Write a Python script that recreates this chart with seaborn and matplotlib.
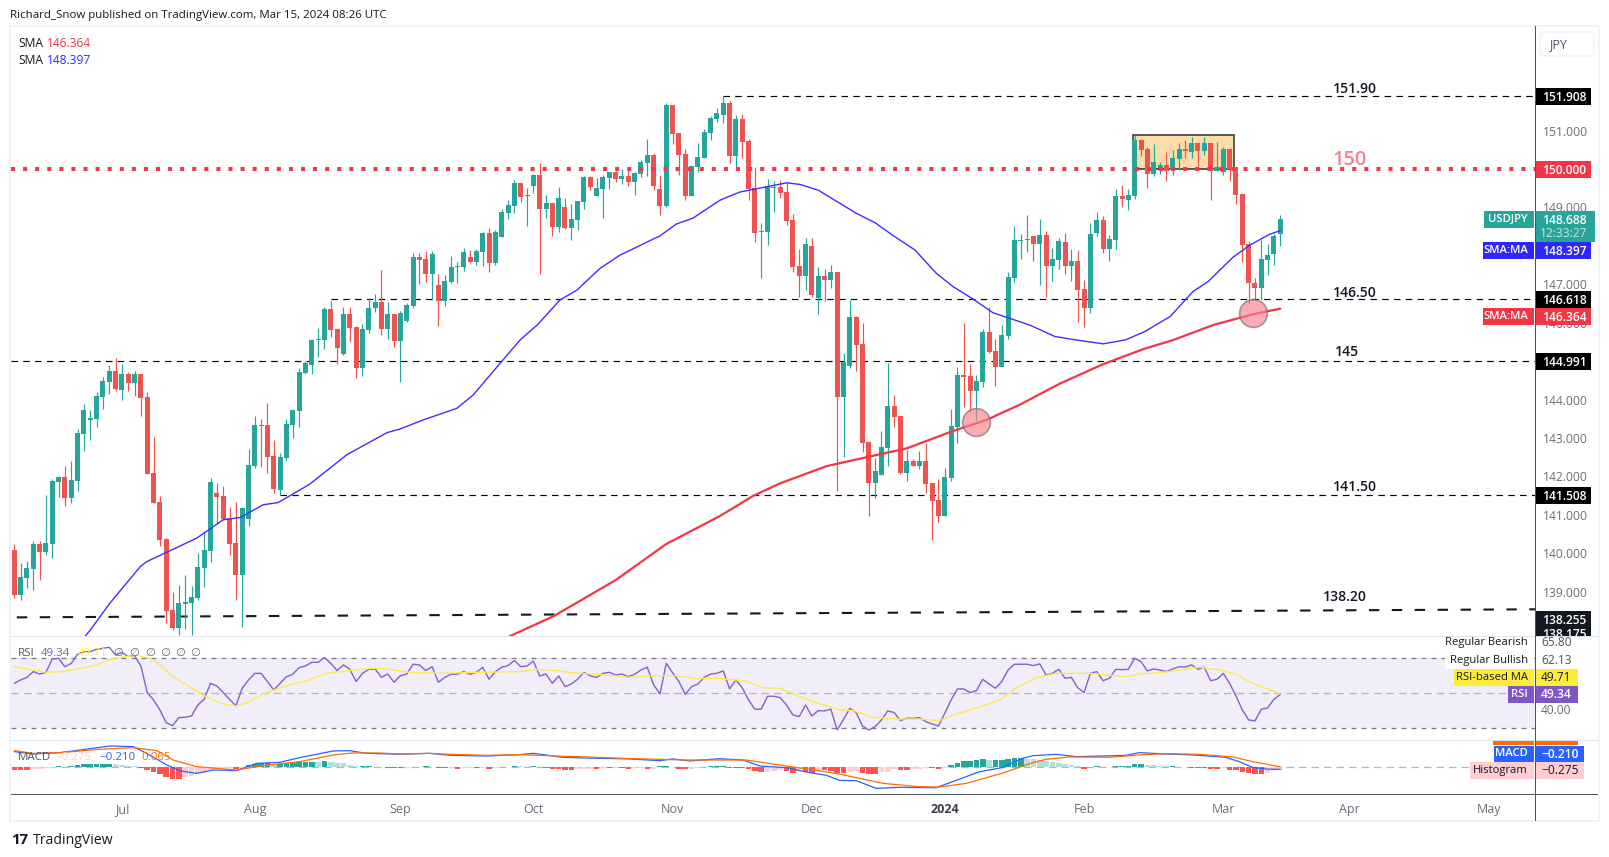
import numpy as np
import matplotlib
matplotlib.use("Agg")
import matplotlib.pyplot as plt
import seaborn as sns
from matplotlib.patches import Rectangle, FancyBboxPatch
from matplotlib.transforms import Bbox, TransformedBbox

# ---------- data ----------
opens = [140.08,138.91,139.36,139.59,140.24,140.03,140.24,141.85,141.98,141.44,141.88,143.10,143.47,143.49,144.07,144.46,144.74,144.25,144.67,144.43,
144.67,144.07,142.09,141.33,140.37,138.52,138.05,138.68,138.70,138.83,139.62,140.06,141.57,141.49,140.92,140.27,139.43,140.89,142.27,143.34,
143.34,142.53,141.65,142.48,143.34,143.70,144.69,144.90,145.55,145.55,146.36,145.84,145.19,146.23,145.89,144.82,145.81,146.39,146.54,145.84,
146.23,145.52,146.04,146.44,147.71,147.66,147.27,146.98,146.57,147.06,147.45,147.45,147.71,147.58,147.84,148.34,147.56,148.23,148.86,149.04,
149.64,149.30,149.56,149.85,148.96,149.12,148.49,149.01,148.47,148.67,149.14,149.80,149.30,149.48,149.77,149.92,149.74,149.82,149.67,149.87,
150.16,150.37,149.48,149.04,151.67,150.94,150.39,149.30,150.05,150.29,150.94,151.30,151.40,151.72,150.34,151.30,150.73,149.51,148.36,148.36,
149.51,149.53,149.40,148.67,147.48,147.22,148.00,146.64,147.22,147.11,147.32,144.07,144.87,146.15,145.45,142.90,141.83,142.03,142.74,143.83,
143.57,142.09,142.40,142.27,142.40,141.83,141.38,140.97,141.96,143.28,144.64,144.61,144.22,144.46,145.76,145.26,144.84,145.65,147.16,148.13,
148.15,148.26,148.05,148.28,147.47,147.63,148.10,147.47,147.60,146.87,146.38,148.33,148.67,147.91,148.15,149.30,149.19,149.30,150.75,150.52,
149.87,150.03,150.10,149.97,150.26,150.52,150.44,150.68,150.47,150.68,149.95,149.92,150.52,150.05,149.35,148.05,147.04,146.90,147.63,147.79,148.31]
highs = [140.24,139.74,139.80,140.32,140.32,141.52,141.92,142.01,142.27,142.40,143.23,143.88,143.73,144.20,144.59,144.90,145.08,144.93,144.72,144.74,
144.67,144.20,143.03,141.49,140.40,138.99,139.17,139.43,139.15,140.01,140.58,141.96,141.83,141.75,141.20,141.33,141.20,142.71,143.57,143.49,
143.91,142.95,142.61,143.49,143.75,144.82,145.00,145.58,145.86,146.41,146.57,145.86,146.41,146.41,145.91,145.97,146.65,146.75,147.37,146.54,
146.23,146.30,146.51,147.81,147.81,147.87,147.87,147.27,147.24,147.74,147.58,147.95,147.90,147.92,148.36,148.47,148.41,148.96,149.20,149.72,
149.64,149.51,149.87,150.16,149.33,149.12,149.53,149.25,149.09,149.17,149.82,149.82,149.77,149.85,149.92,149.95,150.00,149.97,149.92,150.23,
150.78,150.42,149.85,151.72,151.67,150.94,150.52,150.08,150.68,151.04,151.38,151.59,151.90,151.77,151.40,151.43,150.78,150.05,148.60,149.74,
149.69,149.72,149.67,148.83,147.92,148.20,148.20,147.45,147.40,147.50,147.32,145.21,146.59,146.17,145.99,142.92,142.48,143.18,144.95,144.12,
143.57,142.68,142.45,142.66,142.87,141.83,141.93,142.22,143.75,144.84,145.99,144.92,144.64,145.84,146.41,145.57,145.94,147.32,148.51,148.31,
148.80,148.26,148.70,148.39,147.94,148.20,148.33,147.91,147.89,147.11,148.59,148.88,148.77,148.28,149.48,149.58,149.48,150.88,150.78,150.57,
150.65,150.18,150.44,150.49,150.68,150.75,150.83,150.70,150.83,150.68,150.70,150.57,150.55,150.05,149.37,148.12,147.16,148.15,148.05,148.30,148.80]
lows = [138.84,138.78,139.09,139.04,139.30,139.95,139.88,141.46,141.23,141.31,141.62,142.66,142.95,143.29,143.75,144.14,144.22,143.99,144.22,144.09,
143.57,142.06,141.31,140.19,138.18,138.00,137.87,138.03,137.87,138.78,139.12,139.77,140.76,140.86,139.95,138.78,138.08,140.71,142.22,142.24,
142.09,141.57,141.52,142.43,143.00,143.29,144.67,144.67,145.11,145.32,145.63,144.93,145.16,145.50,144.56,144.62,145.74,146.28,145.68,145.58,
145.37,144.46,146.02,146.38,147.01,147.06,146.59,145.91,146.44,147.03,147.03,147.35,147.56,147.50,147.48,147.32,147.50,148.23,148.70,148.86,
149.14,148.52,149.38,147.27,148.73,148.26,148.36,148.44,148.16,148.41,148.96,149.46,149.30,148.73,149.48,149.67,149.61,149.56,149.33,149.80,
149.82,149.46,148.80,149.01,150.65,149.85,149.20,149.30,149.92,150.29,150.76,151.22,151.20,150.16,150.05,150.29,149.20,148.10,147.16,148.02,
148.88,149.25,148.55,147.32,146.67,146.85,146.67,146.22,146.56,146.90,141.62,142.50,144.82,144.74,142.63,140.97,141.44,142.03,142.27,143.28,
142.06,141.88,142.27,142.19,141.57,140.34,140.81,140.97,141.88,142.87,143.80,143.67,143.44,144.33,145.21,144.35,144.84,145.57,147.06,147.66,
147.84,147.60,146.98,146.67,147.08,147.40,147.27,147.08,146.01,145.88,146.25,148.26,147.81,147.60,147.91,149.01,148.93,149.22,150.34,149.50,
149.82,149.87,149.69,149.84,149.97,150.29,150.29,150.08,150.36,149.19,149.95,149.84,149.69,149.09,147.58,146.49,146.59,146.59,147.24,147.50,148.00]
closes = [138.91,139.38,139.62,140.24,140.03,140.27,141.88,141.98,141.44,141.91,143.13,143.73,143.52,144.09,144.48,144.74,144.27,144.67,144.43,144.67,
144.04,142.06,141.31,140.34,138.50,138.05,138.70,138.73,138.86,139.64,140.08,141.85,141.46,140.89,140.24,139.43,141.18,142.30,143.34,143.31,
142.50,141.67,142.50,143.36,143.73,144.72,144.95,145.55,145.58,146.36,145.81,145.34,146.23,145.86,144.82,145.84,146.39,146.54,145.84,146.23,
145.52,146.25,146.46,147.71,147.63,147.27,147.79,146.57,147.09,147.45,147.48,147.84,147.58,147.87,148.34,147.56,148.36,148.88,149.07,149.64,
149.27,149.33,149.85,148.96,149.12,148.49,149.25,148.47,148.70,149.17,149.80,149.53,149.51,149.80,149.92,149.74,149.82,149.67,149.89,150.18,
150.37,149.56,149.04,151.67,150.91,150.37,149.30,150.08,150.32,150.97,151.33,151.46,151.72,150.34,151.30,150.71,149.48,148.33,148.39,149.56,
149.53,149.38,148.65,147.45,147.22,148.05,146.72,147.22,147.11,147.32,144.07,144.97,146.15,145.42,142.87,141.83,142.14,142.76,143.83,143.54,
142.09,142.40,142.27,142.40,141.80,141.36,140.97,141.98,143.31,144.64,144.59,144.22,144.48,145.76,145.24,144.84,145.68,147.19,148.15,148.15,
148.18,148.05,148.28,147.47,147.66,148.12,147.47,147.60,146.85,146.38,148.31,148.67,147.91,148.18,149.30,149.22,149.32,150.75,150.49,149.87,
150.18,150.10,149.95,150.29,150.52,150.47,150.68,150.47,150.68,149.95,150.05,150.52,150.00,149.32,148.02,147.04,146.90,147.66,147.76,148.26,148.69]

sma50_x = [10,12,15.1,19.9,20.9,28.8,33,35.7,39.3,41.7,46.7,52.5,58.9,60.9,64.6,69.9,72.5,77.2,79.9,82.6,86.2,88.9,92.5,95.7,102,104.6,107.2,111.5,114.6,118.9,122,124.1,127,130,133,136,139,142.3,145.7,148.3,151.5,154.6,160.4,164.4,167.8,172,175.5,178.6,182.6,186.2,188.6,192.5,195.2,198.3,200]
sma50_y = [137.6,138.0,138.70,139.65,139.78,140.39,140.87,140.93,141.26,141.32,141.80,142.56,143.14,143.23,143.47,143.77,144.12,145.03,145.55,145.94,146.59,146.85,147.41,147.76,148.26,148.57,148.72,149.19,149.40,149.54,149.64,149.60,149.45,149.15,148.85,148.6,148.25,147.89,147.28,146.94,146.61,146.26,145.94,145.64,145.55,145.45,145.55,145.77,146.16,146.81,147.07,147.70,148.02,148.30,148.397]
sma200_x = [77,78.3,85.3,95,103,111.5,116.7,121,128.4,134.7,141,148.3,153.6,158.9,165,172,178.5,183.1,189.4,195.7,198.3,200]
sma200_y = [137.6,137.84,138.37,139.30,140.24,140.97,141.49,141.82,142.27,142.50,142.73,143.18,143.47,143.87,144.4,144.92,145.32,145.55,145.94,146.22,146.31,146.364]

rsi = [55.7,57.6,59.1,62.4,61.0,62.0,69.6,70.0,65.2,67.1,72.3,73.8,73.8,75.1,75.7,76.3,71.9,73.4,71.0,71.5,
65.6,50.4,46.2,40.5,33.2,31.5,36.1,36.3,37.0,43.3,46.6,55.7,54.2,50.4,46.6,42.8,52.9,57.6,61.4,61.4,
56.7,51.9,55.7,59.5,60.9,64.7,65.6,67.7,67.7,70.4,67.1,63.0,66.2,63.7,56.7,61.4,63.7,63.9,59.1,61.0,
56.3,60.1,61.0,66.6,66.2,63.0,65.2,56.3,59.1,60.9,60.9,62.4,60.9,62.0,64.9,58.0,62.4,64.9,65.8,68.7,
65.2,65.6,68.5,59.9,61.0,55.7,59.9,53.8,55.3,58.0,62.0,59.9,59.1,61.4,62.0,60.5,61.0,59.5,60.9,63.3,
64.9,54.8,49.6,67.1,61.8,56.7,49.4,53.8,55.3,59.1,61.0,61.4,62.8,52.5,57.6,53.2,46.2,40.9,40.9,48.3,
48.3,47.5,43.3,37.6,36.7,43.3,37.0,40.1,39.9,40.9,29.0,35.1,41.4,39.0,31.3,29.0,31.0,34.8,39.9,39.0,
34.4,35.7,35.7,36.1,33.8,32.5,31.3,38.6,46.2,52.5,52.5,50.4,51.5,58.0,55.3,52.9,56.7,63.3,66.6,66.6,
66.6,65.8,66.8,60.5,61.4,63.7,58.6,59.1,53.2,50.4,61.4,62.4,57.2,58.6,63.7,63.5,63.7,70.0,68.1,62.8,
63.9,63.3,62.4,63.9,65.2,65.0,66.2,63.7,64.9,57.2,58.0,61.4,55.7,48.5,40.5,34.8,34.2,40.9,41.6,46.6,49.34]
rsi_ma_x = [0,5.1,7.7,12.5,15.6,19.3,21.4,23,25.1,29.3,32.5,35.1,37.2,39.3,42.5,46.7,49.3,53,56.7,58.8,62.5,67.2,71.4,79.8,82.5,85.6,87.7,93,97.2,101,104.6,107.7,111.4,115.6,118.3,120.9,123.5,126.2,130.4,132.5,135.6,139.3,143,146.2,148.8,151.9,155.7,158.2,161.6,164.6,169.8,175.6,177.7,182,187.2,190.4,193,195.6,200]
rsi_ma_y = [65.2,62,62.4,65.6,70,71.7,70,66.2,59.5,50,44.3,42.8,45.2,49.6,53.8,57.6,61.4,63,64.3,63.9,62,61.4,61.8,62.4,63.7,63,62,60.5,59.1,60.1,60.1,58.4,58.6,56.9,53.2,52.9,49,45.2,40.5,40.1,36.3,35.3,35.3,34.4,38.2,41.4,46.2,52.9,59.1,61.4,61.4,59.5,60.9,62.2,64.9,63.3,61,55.7,49.71]

hist = [-.28,-.28,-.28,-.21,-.14,-.10,-.04,.14,.07,.14,.21,.32,.35,.35,.35,.36,.35,.25,.18,.14,
-.04,-.28,-.49,-.70,-.98,-1.19,-1.19,-1.05,-.91,-.70,-.63,-.28,-.14,-.10,-.07,-.14,-.07,.21,.35,.42,
.43,.35,.35,.42,.49,.56,.60,.61,.60,.70,.60,.49,.42,.25,.10,.10,.11,.07,.07,-.04,
-.10,-.11,-.10,.07,.04,.10,.04,-.04,-.10,-.07,-.14,-.10,-.04,-.10,-.07,-.14,-.04,.04,.04,.14,
.11,.07,.14,.02,-.04,-.14,-.14,-.25,-.25,-.21,-.18,-.14,-.14,-.10,-.10,-.07,-.07,-.18,-.10,-.07,
-.18,-.14,.10,.14,.07,-.18,-.21,-.14,-.04,.04,.14,.18,.18,-.04,-.07,-.10,-.21,-.35,-.49,-.46,
-.35,-.32,-.39,-.60,-.42,-.49,-.56,-.28,-.28,-.35,-.63,-.63,-.46,-.35,-.60,-.70,-.70,-.53,-.49,-.18,
-.25,-.25,-.18,-.14,-.10,-.10,-.18,-.04,.28,.46,.67,.67,.77,.88,.77,.77,.77,.88,.98,.98,
.91,.84,.77,.63,.56,.42,.32,.25,.10,-.18,.02,.14,.04,.04,.14,.14,.14,.35,.35,.25,
.21,.14,.10,.10,.04,.02,-.04,-.07,-.07,-.14,-.14,-.10,-.28,-.28,-.49,-.56,-.70,-.70,-.60,-.42,-.275]
macd_x = [0,3,7.2,10.4,15.1,18.8,20.9,24.1,26.2,28.8,31.4,35.1,38.3,41.9,45.1,50.4,53,55.6,60.9,65.6,68.8,74.6,79.8,82,86.7,90.4,97.2,102,104,106.7,111.4,115.1,117.8,122,125.1,128.3,130.4,133,136.2,139.8,145.6,148.2,152.5,156,159.3,160.9,164.6,167.7,175.6,177.7,182,186.2,191.4,193.5,195.6,197.7,200]
macd_y = [1.65,1.40,1.54,1.82,2.24,2.17,1.47,.25,-.38,-.63,-.28,-.35,.42,.52,1.02,1.72,1.75,1.47,1.37,1.47,1.26,1.19,1.33,1.47,1.05,.98,.88,.70,.88,.67,.91,.77,.14,-.04,-.49,-.84,-1.37,-1.40,-2.21,-2.10,-2.14,-1.51,-.46,-.04,.95,1.22,1.37,1.12,1.26,1.54,1.40,1.30,1.05,.60,0,-.18,-.21]
signal_x = [0,3,7.2,13.5,18.8,22.5,25.1,28.8,31.9,35.1,39.3,45.1,50.4,53.5,57.7,60.9,65.6,68.8,74.6,79.8,85.6,90.4,97.7,106.2,115.6,122,129.8,137.2,142.9,146.2,150.4,156,160.9,163,166.7,173,177.7,182,187.2,192.5,195.6,200]
signal_y = [1.75,1.47,1.54,1.89,2.07,1.75,.77,.07,-.10,-.28,.18,.60,1.30,1.51,1.51,1.40,1.47,1.37,1.26,1.33,1.19,1.09,.91,.77,.77,.14,-.63,-1.68,-2.03,-2.07,-1.68,-.63,.49,.84,1.09,1.05,1.30,1.44,1.37,1.09,.60,.065]

price_ticks = [151,149,147,146,144,143,142,141,140,139]
month_ticks = [17,38,61,82,104,126,147,169,191,211,233]
month_labels = ["Jul","Aug","Sep","Oct","Nov","Dec","2024","Feb","Mar","Apr","May"]

lvl_1519 = 151.908
lvl_150 = 150.0
lvl_1465 = 146.618
lvl_145 = 144.991
lvl_1415 = 141.508
trend_x = [0.4, 240.35]
trend_y = [138.33, 138.54]
box_x = [176.8, 192.7]
box_y = [150.008, 150.876]
cross_x = [152, 195.7]
cross_y = [143.41, 146.24]

# ---------- style ----------
sns.set_style("white")
plt.rcParams['font.family'] = ['Open Sans', 'DejaVu Sans']
GREEN, RED = "#26a69a", "#ef5350"
W, H = 1609, 857
fig = plt.figure(figsize=(W/100, H/100), dpi=100, facecolor="white")

def pane(top, bottom):
    a = fig.add_axes([11/W, 1-bottom/H, (1535.7-11)/W, (bottom-top)/H])
    a.set_xlim(-0.52, 240.35)
    a.set_facecolor("white")
    for s in a.spines.values():
        s.set_visible(False)
    a.yaxis.tick_right()
    a.tick_params(axis="both", length=0)
    return a

ax = pane(26.5, 636)
ax.set_ylim(137.845, 153.71)
arsi = pane(636, 740)
arsi.set_ylim(23.31, 82.74)
am = pane(740, 794)
am.set_ylim(-2.80, 2.87)

# ---------- price pane ----------
n = len(opens)
x = np.arange(n)
O, Hi, Lo, Cl = map(np.array, (opens, highs, lows, closes))
cols = [GREEN if c >= o else RED for o, c in zip(O, Cl)]
ax.add_patch(Rectangle((box_x[0], box_y[0]), box_x[1]-box_x[0], box_y[1]-box_y[0],
                       fc="#fedcaa", ec="#2a2e39", lw=1.1, zorder=1))
ax.vlines(x, Lo, Hi, colors=cols, lw=0.85, zorder=3)
ax.bar(x, np.maximum(np.abs(Cl-O), 0.025), bottom=np.minimum(O, Cl), width=0.79, color=cols, lw=0, zorder=3)

dash = dict(color="black", lw=0.85, ls=(0, (5.5, 4.5)), zorder=2)
ax.plot([112, 240.35], [lvl_1519]*2, **dash)
ax.plot([50, 240.35], [lvl_1465]*2, **dash)
ax.plot([-0.52, 240.35], [lvl_145]*2, **dash)
ax.plot([42, 240.35], [lvl_1415]*2, **dash)
ax.plot(trend_x, trend_y, color="#131722", lw=1.5, ls=(0, (5, 6)), zorder=2)
ax.plot([-0.52, 240.35], [lvl_150]*2, color="#f23645", lw=2.9, ls=(0, (1, 2)), dash_capstyle="butt", zorder=4)

sns.lineplot(x=sma50_x, y=sma50_y, ax=ax, color="#3a30ff", lw=1.0, zorder=5, estimator=None, sort=False)
sns.lineplot(x=sma200_x, y=sma200_y, ax=ax, color="#f23645", lw=1.6, zorder=5, estimator=None, sort=False)
ax.scatter(cross_x, cross_y, s=400, color="#fb7f8b", alpha=0.65, edgecolors="#6f6f6f", linewidths=1.2, zorder=6)

ax.set_yticks(price_ticks)
ax.set_yticklabels([f"{p:.3f}" for p in price_ticks], fontsize=8.7, color="#6a6d78")
ax.tick_params(axis="y", pad=5.5)
ax.set_xticks([])
ax.set_xlabel("")
ax.set_ylabel("")

# ---------- RSI pane ----------
arsi.axhspan(30, 70, color="#f1edf9", lw=0, zorder=0)
arsi.axhline(70, color="#787b86", lw=0.9, ls=(0, (4, 4)), zorder=1)
arsi.axhline(50, color="#b2b5be", lw=0.9, ls=(0, (6, 4)), zorder=1)
arsi.axhline(30, color="#787b86", lw=0.9, ls=(0, (4, 4)), zorder=1)
sns.lineplot(x=x, y=rsi, ax=arsi, color="#8660c8", lw=1.0, zorder=3, estimator=None)
sns.lineplot(x=rsi_ma_x, y=rsi_ma_y, ax=arsi, color="#ffe94d", lw=1.0, zorder=4, estimator=None, sort=False)
arsi.set_xticks([])
arsi.set_yticks([])
arsi.set_xlabel("")
arsi.set_ylabel("")

# ---------- MACD pane ----------
hcols = []
for k, v in enumerate(hist):
    prev = hist[k-1] if k else v
    if v >= 0:
        hcols.append("#26a69a" if v >= prev else "#b2dfdb")
    else:
        hcols.append("#ff5252" if v <= prev else "#ffcdd2")
am.axhline(0, color="#b2b5be", lw=0.9, ls=(0, (6, 4)), zorder=1)
am.bar(x, hist, width=0.88, color=hcols, lw=0, zorder=2)
sns.lineplot(x=macd_x, y=macd_y, ax=am, color="#2962ff", lw=0.9, zorder=3, estimator=None, sort=False)
sns.lineplot(x=signal_x, y=signal_y, ax=am, color="#ff6d00", lw=0.9, zorder=4, estimator=None, sort=False)
am.set_yticks([])
am.set_xticks(month_ticks)
am.set_xticklabels(month_labels, fontsize=9, color="#6a6d78")
am.tick_params(axis="x", pad=6.5)
am.set_xlabel("")
am.set_ylabel("")
for t in am.get_xticklabels():
    if t.get_text() == "2024":
        t.set_fontweight("bold")
        t.set_color("#3a3d48")

# ---------- overlay in picture pixels ----------
ov = fig.add_axes([0, 0, 1, 1], zorder=20)
ov.set_xlim(0, W)
ov.set_ylim(H, 0)
ov.axis("off")

def rect(x0, y0, x1, y1, c, **kw):
    ov.add_patch(Rectangle((x0, y0), x1-x0, y1-y0, fc=c, ec="none", **kw))

def txt(xp, yp, s, c="#131722", size=12, ha="left", **kw):
    return ov.text(xp, yp, s, color=c, fontsize=size*0.72, ha=ha, va="center", **kw)

# frame
rect(9, 25, 11, 821, "#f0f3fa")
rect(9, 25, 1600, 26.5, "#f0f3fa")
rect(1598, 25, 1600.5, 821, "#f0f3fa")
rect(9, 820, 1600, 822, "#f0f3fa")
rect(11, 635.5, 1598, 636.8, "#e0e3eb")
rect(11, 739.5, 1598, 740.8, "#e0e3eb")
rect(11, 793.6, 1598, 794.8, "#50535e")
rect(1535.2, 26, 1536.3, 821, "#50535e")

# header and legend
txt(10, 15, "Richard_Snow published on TradingView.com, Mar 15, 2024 08:26 UTC", size=11.5)
txt(18, 43, "SMA", size=12)
txt(47, 43, "146.364", "#f23645", size=12)
txt(18, 60, "SMA", size=12)
txt(47, 60, "148.397", "#2a2aff", size=12)
ov.add_patch(FancyBboxPatch((1540, 32), 54, 24, boxstyle="round,pad=0,rounding_size=5", fc="white", ec="#f0f3fa", lw=1.2))
txt(1558, 45, "JPY", "#50535e", size=12.5, ha="center")

# drawing labels
for xp, yp, s in [(1355, 89, "151.90"), (1355, 293, "146.50"), (1347, 352, "145"), (1355, 487, "141.50"), (1345, 597, "138.20")]:
    txt(xp, yp, s, "#131722", size=14, ha="center", fontweight="semibold")
txt(1350, 160, "150", "#f7838f", size=20, ha="center", fontweight="semibold")

# price scale labels
def pricebox(y0, y1, s, bg, fg="white", x1=1591.5, weight="semibold"):
    rect(1535.8, y0, x1, y1, bg)
    txt(1564, (y0+y1)/2+0.7, s, fg, size=12, ha="center", fontweight=weight)

pricebox(88, 105, "151.908", "black")
pricebox(161, 178, "150.000", "#f23645")
rect(1535.8, 211, 1595, 242, GREEN)
txt(1564, 220, "148.688", "white", size=12, ha="center", fontweight="semibold")
txt(1564, 233, "12:33:27", "#c3e6e2", size=12, ha="center")
pricebox(242, 259, "148.397", "#2d26ff")
pricebox(291, 308, "146.618", "black")
pricebox(308, 325, "146.364", "#f23645")
pricebox(353, 370, "144.991", "black")
pricebox(487, 504, "141.508", "black")
rect(1535.8, 611, 1591.5, 636, "#131722")
txt(1564, 620, "138.255", "white", size=12, ha="center", fontweight="semibold")
t = txt(1564, 635, "138.175", "white", size=12, ha="center", fontweight="semibold")
t.set_clip_on(True)
t.set_clip_box(TransformedBbox(Bbox([[1535, 611], [1592, 636]]), ov.transData))

# pane side labels
def tag(x0, y0, y1, s, bg, fg="white", weight="semibold"):
    rect(x0, y0, 1534.3, y1, bg)
    txt(1528, (y0+y1)/2, s, fg, size=11.3, ha="right", fontweight=weight)

tag(1484, 211, 228, "USDJPY", GREEN)
tag(1483, 242, 259, "SMA:MA", "#2d26ff")
tag(1483, 308, 325, "SMA:MA", "#f23645")

txt(1528, 643, "Regular Bearish", size=11.3, ha="right")
tag(1445, 651, 669, "Regular Bullish", "white", "#131722", "normal")
tag(1454, 669, 686, "RSI-based MA", "#ffeb3b", "#131722", "normal")
tag(1508, 686, 703, "RSI", "#7e57c2")
txt(1541, 643, "65.80", "#50535e", size=12)
txt(1541, 660, "62.13", "#50535e", size=12)
rect(1535.8, 669, 1578, 686, "#ffeb3b")
txt(1541, 677.5, "49.71", "#131722", size=12)
rect(1535.8, 686, 1578, 703, "#7e57c2")
txt(1541, 694.5, "49.34", "white", size=12, fontweight="semibold")
txt(1541, 711, "40.00", "#6a6d78", size=12)

rect(1493, 740.8, 1534.3, 745, "#ff6d00")
rect(1535.8, 740.8, 1578, 745, "#ff6d00")
tag(1494, 745.5, 762, "MACD", "#2962ff")
rect(1535.8, 745.5, 1584, 762, "#2962ff")
txt(1541, 754, "−0.210", "white", size=12, fontweight="semibold")
tag(1470, 762, 779, "Histogram", "#ffcdd2", "#131722", "normal")
rect(1535.8, 762, 1584, 779, "#ffcdd2")
txt(1541, 770.5, "−0.275", "#131722", size=12)

# indicator legends
txt(18, 653.7, "RSI", "#50535e", size=11.5)
txt(41, 653.7, "49.34", "#7e57c2", size=11.5)
txt(78, 653.7, "49.71", "#ffe94d", size=11.5)
for xp in [118, 134, 150, 165, 180, 195]:
    txt(xp, 653.7, "∅", "#6a6d78", size=11.5, ha="center")
txt(18, 757.5, "MACD", "#50535e", size=11.5)
txt(55, 757.5, "−0.275", "#ffcdd2", size=11.5)
txt(99, 757.5, "−0.210", "#2962ff", size=11.5)
txt(141, 757.5, "0.065", "#ff6d00", size=11.5)

# footer
txt(11, 840, "17", "#131722", size=15, fontweight="bold")
txt(33, 840, "TradingView", "#131722", size=14, fontweight="medium")

fig.savefig("out.png", dpi=100, facecolor="white")
